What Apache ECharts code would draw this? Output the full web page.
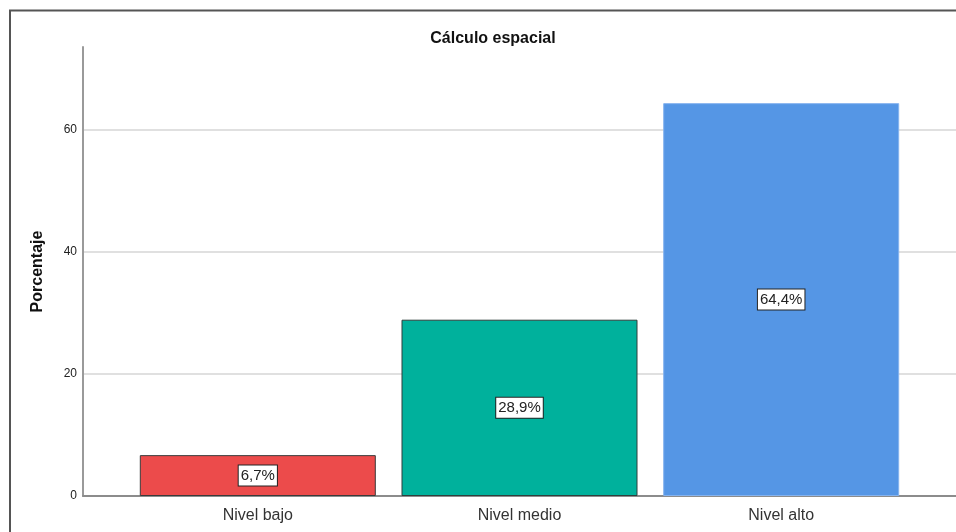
<!DOCTYPE html>
<html>
<head>
<meta charset="utf-8">
<script src="https://cdn.jsdelivr.net/npm/echarts@6/dist/echarts.min.js"></script>
<style>
  html, body { margin: 0; padding: 0; background: #fff; }
  #chart { width: 956px; height: 532px; }
</style>
</head>
<body>
<div id="chart"></div>
<script>
// Categories and percentages
const categories = ['Nivel bajo', 'Nivel medio', 'Nivel alto'];
const percentages = [6.7, 28.9, 64.4];
const barColors = ['#ec4b4b', '#00b19c', '#5596e5'];
const barBorders = ['#3a3a3a', '#2f3f3c', '#86b3ee'];
const yTicks = [0, 20, 40, 60];

const FONT = '"Liberation Sans", Arial, sans-serif';

const barData = percentages.map((v, i) => ({
  value: [i, v],
  itemStyle: { color: barColors[i], borderColor: barBorders[i], borderWidth: 1 }
}));

const chart = echarts.init(document.getElementById('chart'), null, { renderer: 'canvas' });

chart.setOption({
  backgroundColor: '#fff',
  animation: false,
  textStyle: { fontFamily: FONT },
  title: {
    text: 'Cálculo espacial',
    left: 488,
    top: 26,
    textAlign: 'center',
    textStyle: { fontFamily: FONT, fontSize: 16, fontWeight: 'bold', color: '#111' }
  },
  graphic: [{
    type: 'rect',
    shape: { x: 10, y: 10.5, width: 1000, height: 1000 },
    style: { fill: null, stroke: '#555', lineWidth: 2 },
    silent: true
  }],
  grid: { left: 83, right: 0, top: 47, bottom: 36 },
  xAxis: {
    type: 'value',
    min: -0.668,
    max: 2.668,
    splitLine: { show: false },
    axisTick: { show: false },
    axisLine: { show: true, onZero: false, lineStyle: { color: '#8c8c8c', width: 2 } },
    axisLabel: {
      customValues: categories.map((c, i) => i),
      formatter: (v) => categories[Math.round(v)] || '',
      fontFamily: FONT,
      fontSize: 16,
      color: '#333',
      margin: 12
    }
  },
  yAxis: {
    type: 'value',
    min: 0,
    max: 73.6,
    interval: 20,
    name: 'Porcentaje',
    nameLocation: 'middle',
    nameGap: 37,
    nameTextStyle: { fontFamily: FONT, fontSize: 16, fontWeight: 'bold', color: '#111' },
    axisLine: { show: true, onZero: false, lineStyle: { color: '#9a9a9a', width: 2 } },
    axisTick: { show: false },
    axisLabel: {
      customValues: yTicks,
      fontFamily: FONT,
      fontSize: 12,
      color: '#222',
      margin: 6
    },
    splitLine: {
      show: true,
      showMinLine: false,
      showMaxLine: false,
      lineStyle: { color: '#d6d6d6', width: 1.5 }
    }
  },
  series: [{
    type: 'bar',
    barWidth: 236,
    data: barData,
    label: {
      show: true,
      position: 'inside',
      formatter: (p) => String(p.value[1]).replace('.', ',') + '%',
      fontFamily: FONT,
      fontSize: 15,
      color: '#222',
      backgroundColor: '#fff',
      borderColor: '#222',
      borderWidth: 1,
      padding: [3, 2, 2, 2]
    }
  }]
});
</script>
</body>
</html>
